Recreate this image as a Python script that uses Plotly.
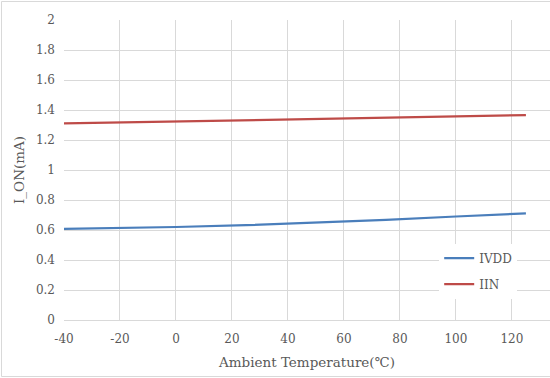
import plotly.graph_objects as go

temps = [-40, -20, 0, 25, 50, 75, 100, 125]
ivdd = [0.607, 0.613, 0.620, 0.632, 0.648, 0.667, 0.690, 0.711]
iin = [1.310, 1.317, 1.324, 1.331, 1.338, 1.346, 1.356, 1.366]

x_ticks = [-40, -20, 0, 20, 40, 60, 80, 100, 120]
y_ticks = [0, 0.2, 0.4, 0.6, 0.8, 1, 1.2, 1.4, 1.6, 1.8, 2]
y_tick_text = ["0", "0.2", "0.4", "0.6", "0.8", "1", "1.2", "1.4", "1.6", "1.8", "2"]

font_family = "DejaVu Serif"
txt_color = "#595959"
grid = "#d9d9d9"

fig = go.Figure()
fig.add_trace(go.Scatter(x=temps, y=ivdd, mode="lines", name="IVDD",
                         legendgroup="a",
                         line=dict(color="#4A7EBB", width=2.25)))
fig.add_trace(go.Scatter(x=temps, y=iin, mode="lines", name="IIN",
                         legendgroup="b",
                         line=dict(color="#BE4B48", width=2.25)))

fig.update_layout(
    width=550, height=378,
    margin=dict(l=64, r=0, t=20, b=58, autoexpand=False),
    paper_bgcolor="white", plot_bgcolor="white",
    font=dict(family=font_family, size=12, color=txt_color),
    xaxis=dict(range=[-40, 133.6], tickvals=x_ticks,
               ticktext=[str(v) for v in x_ticks],
               showgrid=True, gridcolor=grid, gridwidth=1,
               zeroline=False, showline=True, linecolor=grid, linewidth=1,
               ticks="", ticklabelstandoff=8, automargin=False,
               tickfont=dict(family=font_family, size=12, color=txt_color),
               title=dict(text="Ambient Temperature(℃)", standoff=12,
                          font=dict(family=font_family, size=13.5, color=txt_color))),
    yaxis=dict(range=[0, 2], tickvals=y_ticks, ticktext=y_tick_text,
               showgrid=True, gridcolor=grid, gridwidth=1,
               zeroline=False, showline=False, ticks="",
               ticklabelstandoff=8, automargin=False,
               tickfont=dict(family=font_family, size=12, color=txt_color),
               title=dict(text="I_ON(mA)", standoff=8,
                          font=dict(family=font_family, size=13.5, color=txt_color))),
    legend=dict(x=0.772, y=0.255, xanchor="left", yanchor="top",
                bgcolor="white", font=dict(family=font_family, size=12, color=txt_color),
                traceorder="grouped", tracegroupgap=7, itemwidth=30),
    showlegend=True,
)

# outer chart border (left, top, bottom) in paper coordinates
pw, ph = 486.0, 300.0
def px(xp):
    return (xp - 64) / pw
def py(yp):
    return (320 - yp) / ph
for x0, y0, x1, y1 in [(1.5, 1.5, 1.5, 376.5), (1.5, 1.5, 550, 1.5), (1.5, 376.5, 550, 376.5)]:
    fig.add_shape(type="line", xref="paper", yref="paper",
                  x0=px(x0), y0=py(y0), x1=px(x1), y1=py(y1),
                  line=dict(color="#d9d9d9", width=1))

fig.write_html("out.html", config={"displayModeBar": False},
               post_script="document.body.style.margin='0px';")
